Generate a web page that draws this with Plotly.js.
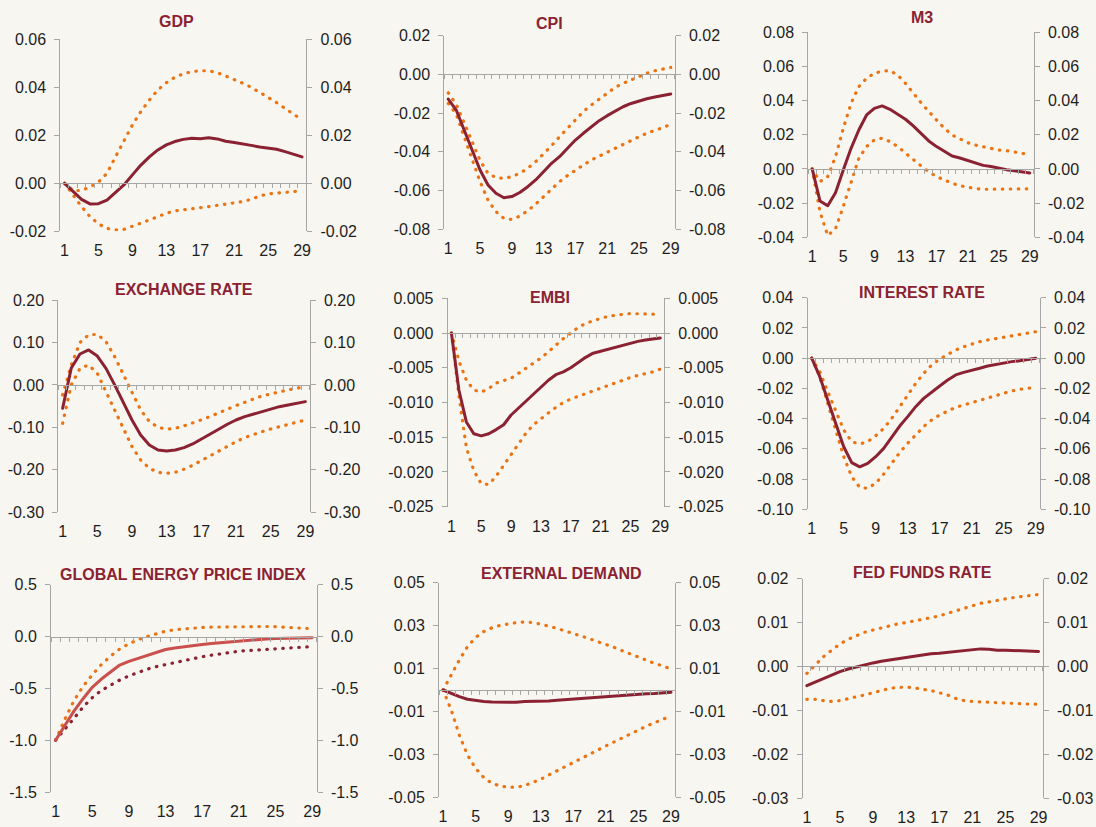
<!DOCTYPE html>
<html><head><meta charset="utf-8">
<script src="https://cdn.plot.ly/plotly-3.0.1.min.js"></script>
<style>html,body{margin:0;padding:0;background:#f8f6f1;}#chart{width:1096px;height:827px;}
#chart path.js-line{stroke-linecap:round !important;stroke-linejoin:round;}</style>
</head><body><div id="chart"></div>
<script>
// ---------- DATA ----------
const periods = [1,2,3,4,5,6,7,8,9,10,11,12,13,14,15,16,17,18,19,20,21,22,23,24,25,26,27,28,29];
const xTickLabels = [1,5,9,13,17,21,25,29];

const gdpMedian = [0,-0.0035,-0.0067,-0.0086,-0.0085,-0.007,-0.004,-0.0007,0.0035,0.0076,0.011,0.0139,0.016,0.0174,0.0183,0.0188,0.0186,0.019,0.0185,0.0175,0.017,0.0165,0.0158,0.0151,0.0147,0.0142,0.0132,0.0122,0.011];
const gdpUpper  = [0,-0.003,-0.003,-0.0015,0.0005,0.0042,0.011,0.0174,0.0243,0.0299,0.0347,0.0389,0.0419,0.0442,0.0456,0.0465,0.0469,0.0469,0.0461,0.0447,0.0433,0.0417,0.04,0.038,0.0358,0.0336,0.0312,0.0285,0.0264];
const gdpLower  = [0,-0.0049,-0.0097,-0.0139,-0.0169,-0.0188,-0.0194,-0.0192,-0.018,-0.0167,-0.0153,-0.0139,-0.0125,-0.0115,-0.0111,-0.0108,-0.0103,-0.0097,-0.0092,-0.0086,-0.0083,-0.0076,-0.0067,-0.0053,-0.0044,-0.0042,-0.0039,-0.0035,-0.0028];
const gdpTicks  = [-0.02,0,0.02,0.04,0.06];

const cpiMedian = [-0.0127,-0.0184,-0.0287,-0.039,-0.0494,-0.0571,-0.0614,-0.0637,-0.0631,-0.061,-0.058,-0.0545,-0.0502,-0.0459,-0.0425,-0.0382,-0.0339,-0.0304,-0.027,-0.0239,-0.0213,-0.0189,-0.0167,-0.015,-0.0136,-0.0126,-0.0117,-0.0108,-0.0101];
const cpiUpper  = [-0.0095,-0.0155,-0.025,-0.035,-0.0445,-0.0511,-0.0533,-0.0537,-0.0528,-0.0511,-0.0485,-0.0451,-0.0411,-0.0368,-0.0322,-0.0278,-0.0235,-0.0192,-0.0158,-0.0127,-0.0095,-0.0067,-0.0046,-0.0029,-0.0008,0.0006,0.0019,0.0028,0.0036];
const cpiLower  = [-0.015,-0.0205,-0.0322,-0.0442,-0.0554,-0.0649,-0.0709,-0.0744,-0.0749,-0.0732,-0.0704,-0.067,-0.0632,-0.0589,-0.0554,-0.0523,-0.0494,-0.0468,-0.0442,-0.0422,-0.0399,-0.0382,-0.0361,-0.0339,-0.0322,-0.0304,-0.0291,-0.0275,-0.0258];
const cpiTicks  = [-0.08,-0.06,-0.04,-0.02,0,0.02];

const m3Median = [0,-0.0187,-0.0215,-0.0139,-0.0006,0.0121,0.0228,0.0316,0.0355,0.0369,0.0349,0.0322,0.0291,0.0252,0.0209,0.0164,0.0131,0.0101,0.0076,0.0064,0.0051,0.0035,0.0021,0.0014,0.0004,-0.0004,-0.001,-0.0018,-0.0023];
const m3Upper  = [0,-0.0074,-0.0045,0.0072,0.0238,0.0384,0.0482,0.0531,0.056,0.0572,0.0576,0.055,0.0501,0.0443,0.0388,0.0336,0.0287,0.0238,0.0199,0.0174,0.0154,0.014,0.0131,0.0121,0.0111,0.0107,0.01,0.0092,0.0084];
const m3Lower  = [0,-0.025,-0.039,-0.035,-0.022,-0.0074,0.0062,0.0131,0.017,0.018,0.016,0.0131,0.0092,0.0053,0.0018,-0.0016,-0.0045,-0.0064,-0.0084,-0.0098,-0.0107,-0.0115,-0.0119,-0.0118,-0.0117,-0.0117,-0.0117,-0.0116,-0.0116];
const m3Ticks  = [-0.04,-0.02,0,0.02,0.04,0.06,0.08];

const fxMedian = [-0.055,0.04,0.0728,0.0823,0.068,0.039,0.0,-0.0433,-0.0826,-0.118,-0.1414,-0.1532,-0.1556,-0.1532,-0.1477,-0.1391,-0.1281,-0.1163,-0.1045,-0.0927,-0.0826,-0.0747,-0.0684,-0.0621,-0.0567,-0.0512,-0.0472,-0.0433,-0.0394];
const fxUpper  = [-0.0237,0.047,0.0999,0.118,0.1192,0.102,0.0666,0.0234,-0.0195,-0.059,-0.0862,-0.0996,-0.1043,-0.102,-0.0965,-0.0902,-0.0823,-0.0745,-0.0651,-0.0573,-0.0486,-0.0408,-0.033,-0.0259,-0.0212,-0.0157,-0.0118,-0.0079,-0.0041];
const fxLower  = [-0.0904,0.0,0.0391,0.0469,0.0273,-0.0159,-0.059,-0.106,-0.1453,-0.1767,-0.1963,-0.2058,-0.2082,-0.2058,-0.1987,-0.1893,-0.1783,-0.1666,-0.1556,-0.1438,-0.1336,-0.1242,-0.1163,-0.11,-0.1038,-0.0983,-0.0928,-0.0881,-0.0826];
const fxTicks  = [-0.3,-0.2,-0.1,0,0.1,0.2];

const embiMedian = [0,-0.0082,-0.0128,-0.0145,-0.0148,-0.0145,-0.0139,-0.0132,-0.0118,-0.0108,-0.0098,-0.0087,-0.0077,-0.0068,-0.006,-0.0056,-0.005,-0.0042,-0.0035,-0.0029,-0.0026,-0.0023,-0.002,-0.0017,-0.0014,-0.0012,-0.001,-0.0009,-0.0007];
const embiUpper  = [0,-0.004,-0.0068,-0.0082,-0.0085,-0.008,-0.0072,-0.0069,-0.0065,-0.0058,-0.0051,-0.0044,-0.0036,-0.0027,-0.0017,-0.0008,0.0,0.0008,0.0014,0.0018,0.0021,0.0024,0.0026,0.0027,0.0028,0.0028,0.0028,0.0027,0.0027];
const embiLower  = [0,-0.009,-0.0165,-0.0198,-0.0217,-0.0218,-0.0206,-0.019,-0.0174,-0.0159,-0.0144,-0.0132,-0.0123,-0.0115,-0.0107,-0.01,-0.0095,-0.0091,-0.0087,-0.0084,-0.008,-0.0076,-0.0072,-0.0068,-0.0064,-0.0061,-0.0059,-0.0056,-0.0052];
const embiTicks  = [-0.025,-0.02,-0.015,-0.01,-0.005,0,0.005];

const irMedian = [0,-0.0121,-0.0277,-0.0431,-0.0586,-0.0691,-0.0719,-0.0696,-0.0652,-0.0597,-0.0524,-0.0449,-0.0387,-0.0321,-0.0266,-0.0222,-0.0184,-0.0145,-0.0111,-0.0094,-0.0083,-0.0067,-0.0052,-0.0041,-0.0032,-0.0023,-0.0017,-0.0008,0.0];
const irUpper  = [0,-0.0089,-0.0221,-0.0354,-0.0475,-0.0553,-0.0568,-0.0553,-0.0513,-0.0465,-0.0399,-0.0322,-0.0244,-0.0167,-0.0101,-0.0045,-0.0006,0.0027,0.0054,0.0076,0.0093,0.0109,0.012,0.0129,0.014,0.0148,0.0157,0.0166,0.0175];
const irLower  = [0,-0.0121,-0.0298,-0.0475,-0.0651,-0.0784,-0.0855,-0.0861,-0.0828,-0.0767,-0.0696,-0.0625,-0.0563,-0.0508,-0.0453,-0.0409,-0.0376,-0.035,-0.0325,-0.031,-0.0294,-0.0281,-0.0266,-0.025,-0.0233,-0.0217,-0.0206,-0.0197,-0.0193];
const irTicks  = [-0.1,-0.08,-0.06,-0.04,-0.02,0,0.02,0.04];

const energyMedian = [-1.0,-0.86,-0.72,-0.60,-0.49,-0.41,-0.34,-0.275,-0.24,-0.21,-0.18,-0.15,-0.125,-0.11,-0.097,-0.086,-0.076,-0.068,-0.06,-0.052,-0.045,-0.038,-0.031,-0.024,-0.02,-0.017,-0.015,-0.013,-0.011];
const energyUpper  = [-1.0,-0.80,-0.62,-0.48,-0.37,-0.27,-0.19,-0.12,-0.07,-0.03,0.0,0.03,0.052,0.065,0.075,0.083,0.088,0.091,0.093,0.094,0.095,0.096,0.097,0.097,0.095,0.09,0.085,0.08,0.075];
const energyLower  = [-1.0,-0.90,-0.79,-0.68,-0.59,-0.52,-0.47,-0.42,-0.38,-0.345,-0.315,-0.29,-0.27,-0.25,-0.23,-0.21,-0.195,-0.18,-0.165,-0.152,-0.142,-0.135,-0.128,-0.122,-0.117,-0.112,-0.107,-0.102,-0.097];
const energyTicks  = [-1.5,-1.0,-0.5,0,0.5];

const extMedian = [0,-0.0016,-0.0031,-0.0043,-0.005,-0.0054,-0.0056,-0.0057,-0.0057,-0.0057,-0.0054,-0.0054,-0.0054,-0.0051,-0.0048,-0.0045,-0.0042,-0.0039,-0.0036,-0.0033,-0.003,-0.0028,-0.0025,-0.0022,-0.0019,-0.0017,-0.0016,-0.0014,-0.0011];
const extUpper  = [0,0.007,0.014,0.0202,0.0245,0.0272,0.029,0.0301,0.0309,0.0314,0.0317,0.0314,0.0307,0.0298,0.0287,0.0275,0.0264,0.0252,0.0239,0.0225,0.0213,0.0199,0.0183,0.0168,0.0152,0.0137,0.0124,0.0112,0.0098];
const extLower  = [0,-0.0093,-0.021,-0.0303,-0.0365,-0.0408,-0.0435,-0.0447,-0.0453,-0.0453,-0.0446,-0.0432,-0.0416,-0.0396,-0.0376,-0.0357,-0.0337,-0.0318,-0.0298,-0.028,-0.0261,-0.0242,-0.0222,-0.0203,-0.0186,-0.0168,-0.0152,-0.0137,-0.0121];
const extTicks  = [-0.05,-0.03,-0.01,0.01,0.03,0.05];

const fedMedian = [-0.0044,-0.0036,-0.0027,-0.002,-0.0012,-0.0006,-0.0001,0.0004,0.0008,0.0012,0.0015,0.0018,0.0021,0.0024,0.0027,0.0029,0.003,0.0032,0.0035,0.0037,0.0039,0.004,0.0039,0.0037,0.0037,0.0036,0.0036,0.0035,0.0034];
const fedUpper  = [-0.0016,0.0003,0.0022,0.0037,0.0051,0.0062,0.0071,0.0078,0.0083,0.0088,0.0092,0.0097,0.01,0.0104,0.0107,0.0111,0.0115,0.0121,0.0127,0.0132,0.0138,0.0144,0.0147,0.0151,0.0154,0.0157,0.0159,0.0161,0.0164];
const fedLower  = [-0.0075,-0.0075,-0.0078,-0.008,-0.0078,-0.0073,-0.0069,-0.0065,-0.006,-0.0054,-0.005,-0.0048,-0.0047,-0.0049,-0.0052,-0.0055,-0.006,-0.0065,-0.0073,-0.0078,-0.008,-0.0081,-0.0082,-0.0083,-0.0084,-0.0085,-0.0086,-0.0086,-0.0086];
const fedTicks  = [-0.03,-0.02,-0.01,0,0.01,0.02];

const panelTitles = ['GDP','CPI','M3','EXCHANGE RATE','EMBI','INTEREST RATE','GLOBAL ENERGY PRICE INDEX','EXTERNAL DEMAND','FED FUNDS RATE'];

// ---------- STYLE / LAYOUT ----------
const W = 1096, H = 827;
const BG = '#f8f6f1', GRAY = '#a6a6a6', DARKRED = '#8b2232', ORANGE = '#ec7311', LIGHTRED = '#c9504d', TXT = '#1e1e1e';
const FONT = 'Liberation Sans, Arial, sans-serif';

const panels = [
  {med:gdpMedian, up:gdpUpper, lo:gdpLower, ticks:gdpTicks, dec:2, box:[60.3,306.3,39.3,231.3], tp:[176,22]},
  {med:cpiMedian, up:cpiUpper, lo:cpiLower, ticks:cpiTicks, dec:2, box:[444.3,674.7,35.7,229.3], tp:[549,24]},
  {med:m3Median, up:m3Upper, lo:m3Lower, ticks:m3Ticks, dec:2, box:[808.3,1033.7,32.3,237.3], tp:[921.7,17.7]},
  {med:fxMedian, up:fxUpper, lo:fxLower, ticks:fxTicks, dec:2, box:[58.3,309.7,300,512.3], tp:[184,289.3]},
  {med:embiMedian, up:embiUpper, lo:embiLower, ticks:embiTicks, dec:3, box:[447.7,664,298.3,506.7], tp:[550,297.7]},
  {med:irMedian, up:irUpper, lo:irLower, ticks:irTicks, dec:2, box:[807.7,1039.7,297.7,509.3], tp:[921.7,292]},
  {med:energyMedian, up:energyUpper, lo:energyLower, ticks:energyTicks, dec:1, box:[51,316.7,584.7,792], tp:[182.7,574], medColor:LIGHTRED, loColor:DARKRED},
  {med:extMedian, up:extUpper, lo:extLower, ticks:extTicks, dec:2, box:[439,675,582.7,797.3], tp:[561,573.3]},
  {med:fedMedian, up:fedUpper, lo:fedLower, ticks:fedTicks, dec:2, box:[802.7,1042.7,578.7,798], tp:[922.7,572.7]}
];

const traces = [];
const layout = {
  width: W, height: H, margin:{l:0,r:0,t:0,b:0},
  paper_bgcolor: BG, plot_bgcolor: 'rgba(0,0,0,0)',
  showlegend: false, annotations: [],
  font:{family:FONT, color:TXT}
};
const tickFont = {family:FONT, size:16, color:TXT};

panels.forEach((p, k) => {
  const i = k + 1, s = i === 1 ? '' : String(i);
  const xa = 'x' + s, ya = 'y' + s;
  const xz = 'x' + (i + 9), yr = 'y' + (i + 9);
  const [l, r, t, b] = p.box;
  const ymin = Math.min(...p.ticks), ymax = Math.max(...p.ticks);
  const ydom = [1 - b / H, 1 - t / H];
  const dotted = '0.5px,7.5px';

  traces.push({x:periods, y:p.up, mode:'lines', line:{color:ORANGE, width:3.2, dash:dotted}, xaxis:xa, yaxis:ya, hoverinfo:'skip'});
  traces.push({x:periods, y:p.lo, mode:'lines', line:{color:p.loColor || ORANGE, width:3.2, dash:dotted}, xaxis:xa, yaxis:ya, hoverinfo:'skip'});
  traces.push({x:periods, y:p.med, mode:'lines', line:{color:p.medColor || DARKRED, width:3}, xaxis:xa, yaxis:ya, hoverinfo:'skip'});
  // placeholders so the overlay axes are built
  traces.push({x:[], y:[], mode:'lines', xaxis:xa, yaxis:yr, hoverinfo:'skip'});
  traces.push({x:[], y:[], mode:'lines', xaxis:xz, yaxis:ya, hoverinfo:'skip'});

  const tickText = p.ticks.map(v => v.toFixed(p.dec));
  layout['xaxis' + s] = {domain:[l / W, r / W], range:[0.5, 29.5], anchor:ya, tickmode:'array', tickvals:xTickLabels,
    ticktext:xTickLabels.map(String), ticks:'', showline:false, showgrid:false, zeroline:false, tickfont:tickFont, ticklabelstandoff:8, fixedrange:true};
  const yCommon = {range:[ymin, ymax], tickmode:'array', tickvals:p.ticks, ticktext:tickText, ticks:'outside', ticklen:5,
    tickcolor:GRAY, tickwidth:1, showline:true, linecolor:GRAY, linewidth:1, showgrid:false, zeroline:false, tickfont:tickFont,
    ticklabelstandoff:5, fixedrange:true};
  layout['yaxis' + s] = Object.assign({domain:ydom, anchor:xa, side:'left'}, yCommon);
  layout['yaxis' + (i + 9)] = Object.assign({overlaying:ya, anchor:xa, side:'right'}, yCommon);
  const zeroPos = ydom[0] + (0 - ymin) / (ymax - ymin) * (ydom[1] - ydom[0]);
  layout['xaxis' + (i + 9)] = {overlaying:xa, anchor:'free', position:zeroPos, side:'bottom', range:[0.5, 29.5],
    tickmode:'linear', tick0:0.5, dtick:1, ticks:'outside', ticklen:4, tickcolor:GRAY, tickwidth:1,
    showline:true, linecolor:GRAY, linewidth:1, showticklabels:false, showgrid:false, zeroline:false, fixedrange:true};

  layout.annotations.push({text:panelTitles[k], xref:'paper', yref:'paper', x:p.tp[0] / W, y:1 - p.tp[1] / H,
    xanchor:'center', yanchor:'middle', showarrow:false, font:{family:FONT, size:16, color:DARKRED, weight:700}});
});

Plotly.newPlot('chart', traces, layout, {staticPlot:true, displayModeBar:false});
</script>
</body></html>
